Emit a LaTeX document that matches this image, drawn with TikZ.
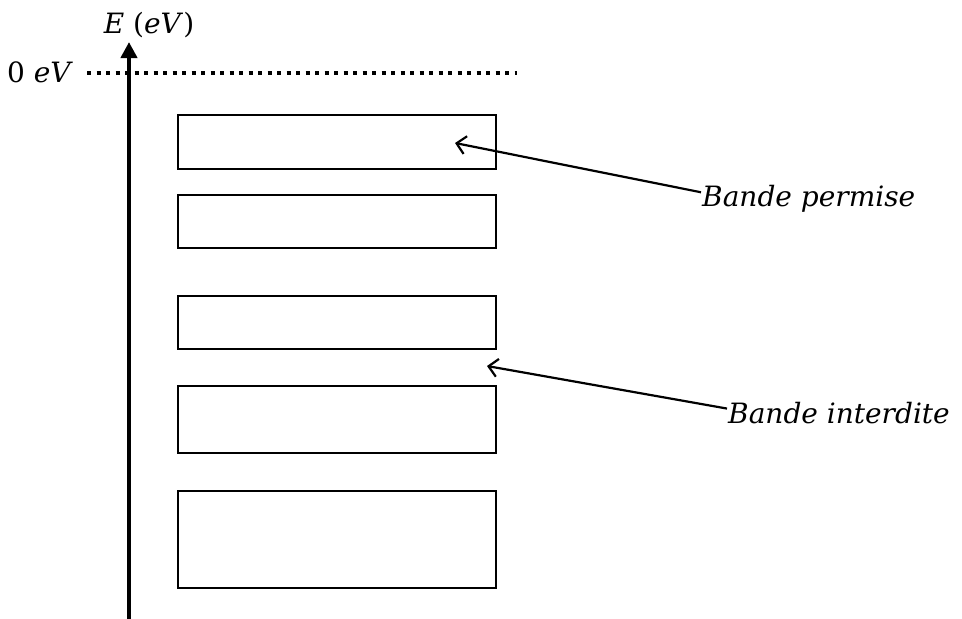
\documentclass[tikz,border=0pt]{standalone}
\usepackage{fontspec}
\setmainfont{DejaVu Serif}
\usetikzlibrary{arrows.meta}
\begin{document}
\begin{tikzpicture}[x=1pt,y=-1pt,
  band/.style={draw, line width=1.6pt, minimum width=318pt, inner sep=0pt, anchor=north west},
  lbl/.style={font=\fontsize{28}{33}\selectfont\itshape, inner sep=0pt, anchor=base west},
  axlbl/.style={font=\fontsize{28}{33}\selectfont, inner sep=0pt},
  pointer/.style={line width=2.2pt, -{Straight Barb[length=9pt,width=18pt,line width=2.2pt]}}]
\useasboundingbox (0,0) rectangle (962,619);
% axis
\coordinate (axb) at (129,619);
\coordinate (axt) at (129,42);
\draw[line width=4pt, -{Triangle[length=16pt,width=16pt]}] (axb) -- (axt);
\node[axlbl, anchor=base] (elbl) at (149,33) {\textit{E} (\textit{eV})};
% zero level
\coordinate (z0) at (87,73);
\coordinate (z1) at (517,73);
\draw[line width=4pt, dash pattern=on 4pt off 5.5pt] (z0) -- (z1);
\node[axlbl, anchor=base west] (zlbl) at (7,82) {0 \textit{eV}};
% bands
\node[band, minimum height=54pt] (b1) at (177,114) {};
\node[band, minimum height=53pt] (b2) at (177,194) {};
\node[band, minimum height=53pt] (b3) at (177,295) {};
\node[band, minimum height=67pt] (b4) at (177,385) {};
\node[band, minimum height=97pt] (b5) at (177,490) {};
% labels
\node[lbl] (perm) at (702,206) {Bande permise};
\node[lbl] (inter) at (728,423) {Bande interdite};
\coordinate (tp) at (455,143);
\coordinate (ti) at (487,366);
\draw[pointer] (perm.west) ++(-1,-6) -- (tp);
\draw[pointer] (inter.west) ++(-1,-4) -- (ti);
\end{tikzpicture}
\end{document}
